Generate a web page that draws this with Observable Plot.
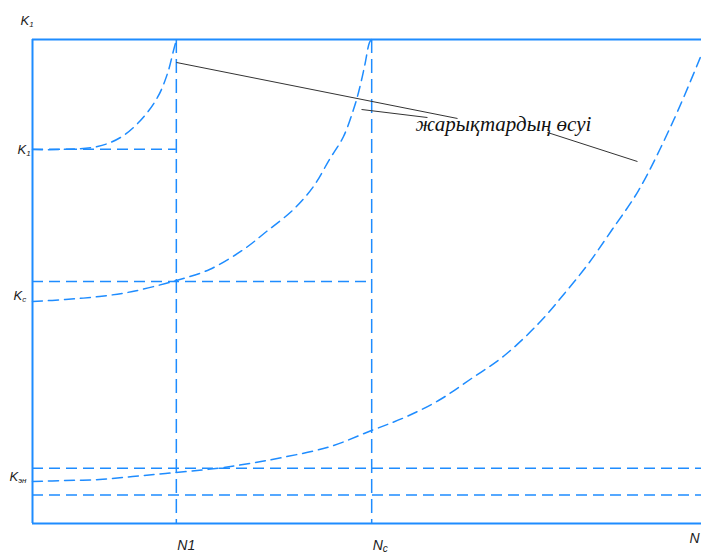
<!DOCTYPE html>
<html>
<head>
<meta charset="utf-8">
<script src="https://cdn.jsdelivr.net/npm/d3@7"></script>
<script src="https://cdn.jsdelivr.net/npm/@observablehq/plot@0.6"></script>
<style>
  html, body { margin: 0; padding: 0; background: #fff; }
  #chart svg { display: block; }
</style>
</head>
<body>
<div id="chart"></div>
<script>
// Reference levels (abstract units: N 0..100, K 0..100)
const N1 = 21.5, Nc = 50.7, Nmax = 100;
const K1 = 77.3, Kc = 50.0, Kth = 11.4, Klow = 5.9, Ktop = 100;

// Curve 1 (starts at K1, reaches top at N1)
const c1N = [0, 4.19, 9.72, 13.15, 16.14, 18.68, 20.18, 21.08, 21.52];
const c1K = [77.27, 77.27, 77.89, 79.75, 83.26, 88.02, 92.98, 97.73, 100];
// Curve 2 (starts near Kc, reaches top at Nc)
const c2N = [0, 4.93, 10.01, 14.95, 19.88, 21.52, 26.46, 31.54, 34.98, 39.01, 42.0, 44.39, 46.49, 47.98, 48.73, 49.63, 50.37, 50.67];
const c2K = [45.87, 46.28, 46.9, 47.93, 49.59, 50.21, 52.48, 56.61, 60.33, 64.88, 69.63, 75.21, 79.96, 85.54, 89.05, 94.42, 99.38, 100];
// Curve 3 (starts near Kth)
const c3N = [0, 4.93, 10.01, 14.95, 19.88, 27.35, 32.44, 37.37, 44.54, 50.67, 55.61, 60.69, 65.62, 70.55, 75.64, 79.52, 83.11, 86.55, 90.58, 95.81, 100];
const c3K = [8.68, 8.88, 9.09, 9.71, 10.33, 11.36, 12.4, 13.64, 15.91, 19.21, 21.9, 25.41, 29.96, 34.71, 41.32, 47.52, 53.72, 60.54, 68.8, 83.26, 96.9];

// Annotation
const noteText = "жарықтардың өсуі";
const notePos = [70.4, 82.4];
const leaderX1 = [21.52, 49.18, 76.98];
const leaderY1 = [95.25, 85.54, 80.79];
const leaderX2 = [63.53, 59.04, 90.43];
const leaderY2 = [83.68, 83.88, 74.79];

// Labels
const kLabels = ["K", "K", "K", "K"];
const kSubs = ["1", "1", "c", "эн"];
const kLabelY = [Ktop, K1, 45.87, 8.68];
const nLabels = ["N", "N", "N"];
const nSubs = ["1", "c", ""];
const nLabelX = [N1, Nc, Nmax];

const blue = "#1e8cff";
const curves = [
  d3.zip(c1N, c1K).map(([n, k]) => ({n, k, id: 1})),
  d3.zip(c2N, c2K).map(([n, k]) => ({n, k, id: 2})),
  d3.zip(c3N, c3K).map(([n, k]) => ({n, k, id: 3}))
].flat();

const kl = kLabels.map((t, i) => ({t, s: kSubs[i], y: kLabelY[i], i}));
const nl = nLabels.map((t, i) => ({t, s: nSubs[i], x: nLabelX[i], i}));
const leaders = leaderX1.map((x1, i) => ({x1, y1: leaderY1[i], x2: leaderX2[i], y2: leaderY2[i]}));

const kdx = [-12, -15, -19, -23];
const kdy = [-19, 0, -6, -5];
const ndx = [1, 1, -12];
const ndy = [22, 22, 15];

const lblStyle = {fontFamily: "Liberation Sans, Arial, sans-serif", fontStyle: "italic", fill: "#222"};

const plot = Plot.plot({
  width: 701,
  height: 553,
  marginLeft: 32,
  marginRight: 0,
  marginTop: 39,
  marginBottom: 30,
  x: {domain: [0, Nmax], axis: null},
  y: {domain: [0, Ktop], axis: null},
  marks: [
    // dashed guide lines
    Plot.ruleY([{y: K1, x1: 0, x2: N1}, {y: Kc, x1: 0, x2: Nc}], {y: "y", x1: "x1", x2: "x2", stroke: blue, strokeWidth: 1.5, strokeDasharray: "11,6"}),
    Plot.ruleY([Kth, Klow], {stroke: blue, strokeWidth: 1.5, strokeDasharray: "11,6"}),
    Plot.ruleX([N1, Nc], {stroke: blue, strokeWidth: 1.5, strokeDasharray: "14,6"}),
    // curves
    Plot.line(curves, {x: "n", y: "k", z: "id", curve: "catmull-rom", stroke: blue, strokeWidth: 1.5, strokeDasharray: "10,6"}),
    // frame
    Plot.ruleX([0], {stroke: blue, strokeWidth: 2}),
    Plot.ruleY([0, Ktop], {stroke: blue, strokeWidth: 2}),
    // leader lines
    Plot.link(leaders, {x1: "x1", y1: "y1", x2: "x2", y2: "y2", stroke: "#333", strokeWidth: 1}),
    // annotation text
    Plot.text([notePos], {x: d => d[0], y: d => d[1], text: () => noteText, fontFamily: "Liberation Serif, Times New Roman, serif", fontStyle: "italic", fontSize: 21, fill: "#111"}),
    // K labels
    Plot.text(kl, {x: () => 0, y: "y", text: "t", textAnchor: "start", fontSize: 13, ...lblStyle,
      render: (idx, scales, values, dims, ctx, next) => {
        const g = next(idx, scales, values, dims, ctx);
        d3.select(g).selectAll("text").each(function(_, j) {
          const i = idx[j];
          const d = kl[i];
          const sel = d3.select(this);
          sel.attr("transform", `translate(${scales.x(0) + kdx[i]},${scales.y(d.y) + kdy[i]})`);
          sel.append("tspan").attr("font-size", 8).attr("dy", "0.3em").text(d.s);
        });
        return g;
      }}),
    // N labels
    Plot.text(nl, {x: "x", y: () => 0, text: "t", textAnchor: "start", fontSize: 14, ...lblStyle,
      render: (idx, scales, values, dims, ctx, next) => {
        const g = next(idx, scales, values, dims, ctx);
        d3.select(g).selectAll("text").each(function(_, j) {
          const i = idx[j];
          const d = nl[i];
          const sel = d3.select(this);
          sel.attr("transform", `translate(${scales.x(d.x) + ndx[i]},${scales.y(0) + ndy[i]})`);
          if (d.s) sel.append("tspan").attr("font-size", i === 0 ? 14 : 10).attr("dy", i === 0 ? "0" : "0.2em").text(d.s);
        });
        return g;
      }})
  ]
});
document.getElementById("chart").appendChild(plot);
</script>
</body>
</html>
